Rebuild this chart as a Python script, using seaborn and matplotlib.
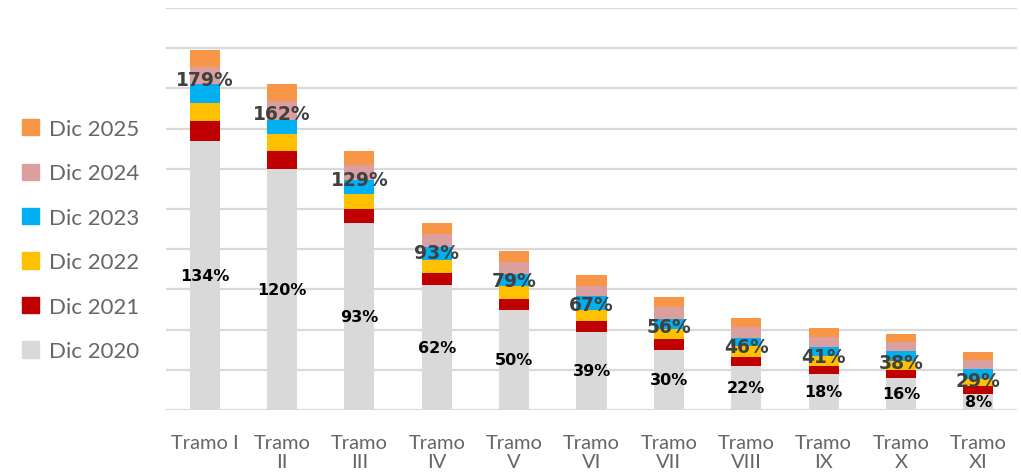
import matplotlib
matplotlib.use("Agg")
import matplotlib.pyplot as plt
import numpy as np
import pandas as pd
import seaborn as sns

# Data (percent, stacked increments per year)
tramos = ["Tramo I", "Tramo\nII", "Tramo\nIII", "Tramo\nIV", "Tramo\nV", "Tramo\nVI",
          "Tramo\nVII", "Tramo\nVIII", "Tramo\nIX", "Tramo\nX", "Tramo\nXI"]
series = ["Dic 2020", "Dic 2021", "Dic 2022", "Dic 2023", "Dic 2024", "Dic 2025"]
dic_2020 = [134, 120, 93, 62, 50, 39, 30, 22, 18, 16, 8]
dic_2021 = [10, 9, 7, 6, 5, 5.5, 5.5, 4.5, 4, 4, 4]
dic_2022 = [8.5, 8.5, 7.5, 6.5, 6.5, 5.5, 5, 5.5, 5, 4.5, 3.5]
dic_2023 = [9.5, 7, 7, 6.5, 6, 6.5, 5, 4, 4.5, 5, 5]
dic_2024 = [8.5, 9, 7.5, 6.5, 6, 5, 5.5, 5.5, 5, 4.5, 4.5]
dic_2025 = [8.5, 8.5, 7, 5.5, 5.5, 5.5, 5, 4.5, 4.5, 4, 4]
total_labels = [179, 162, 129, 93, 79, 67, 56, 46, 41, 38, 29]

colors = ["#D9D9D9", "#C00000", "#FFC000", "#00B0F0", "#DA9F9E", "#F79646"]

df = pd.DataFrame({"tramo": tramos})
for name, vals in zip(series, [dic_2020, dic_2021, dic_2022, dic_2023, dic_2024, dic_2025]):
    df[name] = vals
cum = df[series].cumsum(axis=1)

sns.set_theme(style="white")
plt.rcParams["font.family"] = ["Lato", "DejaVu Sans"]

fig = plt.figure(figsize=(10.21, 4.77), dpi=100)
ax = fig.add_axes([166 / 1021, 66 / 477, 851 / 1021, 402 / 477])

# draw cumulative layers from top down so each covers the one before
for name, col in reversed(list(zip(series, colors))):
    sns.barplot(x=df["tramo"], y=cum[name], color=col, saturation=1,
                width=0.39, errorbar=None, ax=ax, zorder=3, linewidth=0)

ax.set_ylim(0, 200)
ax.set_xlim(-0.5, len(tramos) - 0.5)
ax.set_yticks(np.arange(0, 201, 20))
ax.yaxis.grid(True, color="#D9D9D9", linewidth=1.6, zorder=0)
ax.set_axisbelow(True)
ax.set_yticklabels([])
ax.tick_params(axis="y", length=0)
ax.tick_params(axis="x", length=0, pad=17, labelsize=14.5, labelcolor="#666666")
for lbl in ax.get_xticklabels():
    lbl.set_linespacing(1.2)
ax.set_xlabel("")
ax.set_ylabel("")
for s in ax.spines.values():
    s.set_visible(False)

# value labels
for i in range(len(tramos)):
    ax.text(i, dic_2020[i] / 2, f"{dic_2020[i]}%", ha="center", va="center",
            fontsize=11.5, fontweight="bold", color="black", zorder=5,
            family=["DejaVu Sans"])
    ax.annotate(f"{total_labels[i]}%", xy=(i, cum["Dic 2025"][i]),
                xytext=(0, -21), textcoords="offset points", ha="center",
                va="center", fontsize=13.5, fontweight="bold", color="#404040",
                zorder=6, family=["DejaVu Sans"])

handles = [plt.Rectangle((0, 0), 1, 1, color=c) for c in colors]
fig.legend(handles[::-1], series[::-1], loc="upper left",
           bbox_to_anchor=(2 / 1021, 1 - 100 / 477), frameon=False,
           fontsize=16, handlelength=0.75, handleheight=0.75,
           handletextpad=0.45, labelspacing=1.1, labelcolor="#666666")

fig.savefig("out.png", dpi=100)
